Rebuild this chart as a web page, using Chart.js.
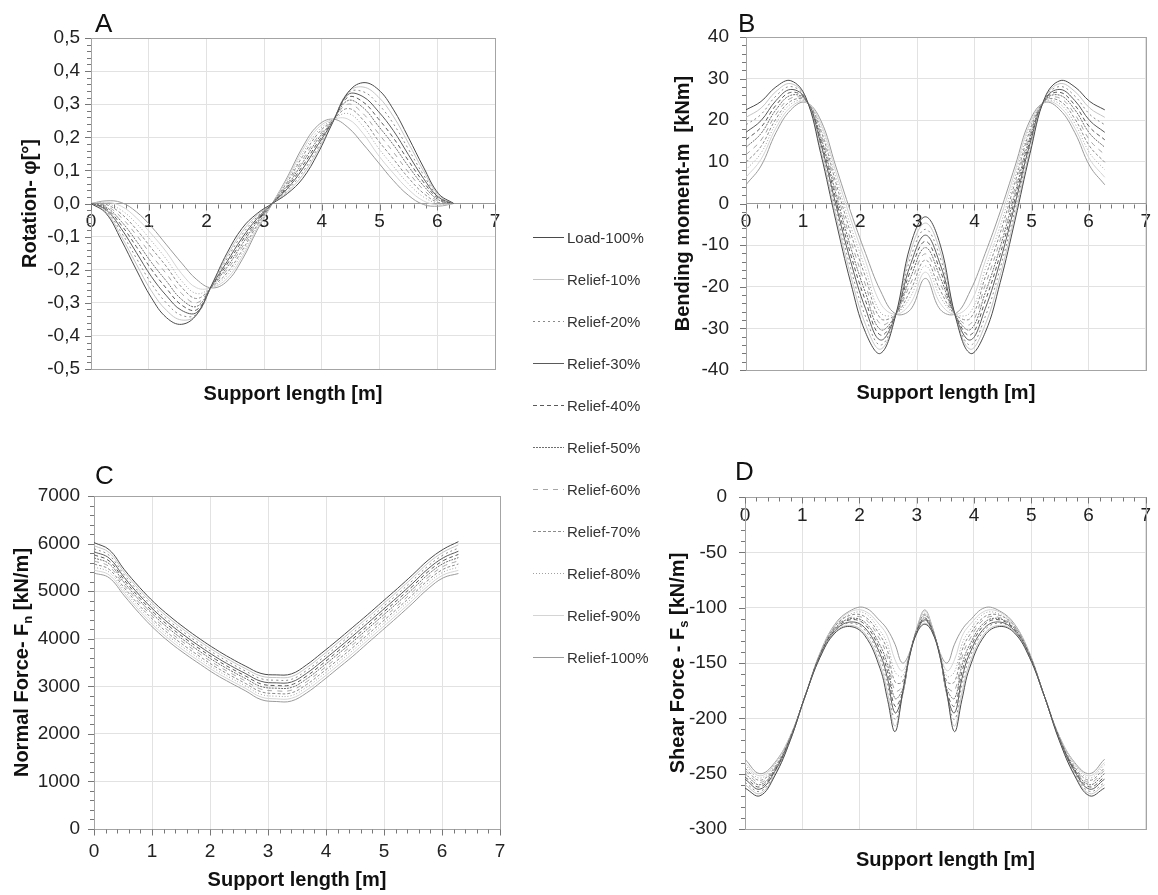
<!DOCTYPE html>
<html>
<head>
<meta charset="utf-8">
<script src="https://cdn.jsdelivr.net/npm/chart.js@4.4.0/dist/chart.umd.min.js"></script>
<style>
  html, body { margin: 0; padding: 0; background: #fff; }
  body { width: 1158px; height: 895px; position: relative; overflow: hidden; font-family: 'Liberation Sans', Arial, sans-serif; }
  canvas { position: absolute; }
  #legend { position: absolute; left: 533px; top: 0; }
  .item { position: absolute; left: 0; height: 18px; white-space: nowrap; font-size: 15px; color: #333; display: flex; align-items: center; }
  .item svg { margin-right: 3px; }
</style>
</head>
<body>
<canvas id="chartA" width="520" height="420" style="left:0;top:0"></canvas>
<canvas id="chartB" width="578" height="420" style="left:580px;top:0"></canvas>
<canvas id="chartC" width="520" height="465" style="left:0;top:430px"></canvas>
<canvas id="chartD" width="578" height="465" style="left:580px;top:430px"></canvas>
<div id="legend"></div>
<script>
// series: load case + relief steps
const seriesNames = ['Load-100%', 'Relief-10%', 'Relief-20%', 'Relief-30%', 'Relief-40%', 'Relief-50%',
                     'Relief-60%', 'Relief-70%', 'Relief-80%', 'Relief-90%', 'Relief-100%'];
const seriesColors = ['#4a4a4a', '#c4c4c4', '#8a8a8a', '#5a5a5a', '#5a5a5a', '#6e6e6e',
                      '#a6a6a6', '#8c8c8c', '#a0a0a0', '#d4d4d4', '#9a9a9a'];
const seriesDash = [[], [], [2, 3], [], [4, 3], [2, 1], [5, 5], [3, 2], [1, 2], [], []];

// support length positions [m]
const xRing = [0, 0.262, 0.524, 0.785, 1.047, 1.309, 1.571, 1.833, 2.094, 2.356, 2.618, 2.880, 3.142,
               3.403, 3.665, 3.927, 4.189, 4.451, 4.712, 4.974, 5.236, 5.498, 5.760, 6.021, 6.283];
const xShear = [0, 0.26, 0.52, 0.79, 1.05, 1.31, 1.57, 1.83, 2.09, 2.36, 2.49, 2.62, 2.75, 2.88, 3.01, 3.14,
                3.27, 3.40, 3.53, 3.66, 3.79, 3.92, 4.19, 4.45, 4.71, 4.97, 5.23, 5.49, 5.76, 6.02, 6.28];

// A - rotation [°], one row per series (same order as seriesNames)
const rotation = [
  [0, -0.03, -0.11, -0.2, -0.285, -0.345, -0.365, -0.335, -0.245, -0.15, -0.075, -0.03, 0, 0.03, 0.075, 0.15, 0.245, 0.335, 0.365, 0.345, 0.285, 0.2, 0.11, 0.03, 0],
  [0, -0.026, -0.099, -0.183, -0.264, -0.323, -0.352, -0.336, -0.246, -0.159, -0.085, -0.035, 0, 0.035, 0.085, 0.159, 0.246, 0.336, 0.352, 0.323, 0.264, 0.183, 0.099, 0.026, 0],
  [0, -0.022, -0.087, -0.165, -0.242, -0.301, -0.338, -0.334, -0.247, -0.167, -0.094, -0.04, 0, 0.04, 0.094, 0.167, 0.247, 0.334, 0.338, 0.301, 0.242, 0.165, 0.087, 0.022, 0],
  [0, -0.019, -0.076, -0.148, -0.221, -0.279, -0.323, -0.329, -0.248, -0.176, -0.104, -0.045, 0, 0.045, 0.104, 0.176, 0.248, 0.329, 0.323, 0.279, 0.221, 0.148, 0.076, 0.019, 0],
  [0, -0.015, -0.065, -0.13, -0.199, -0.257, -0.307, -0.321, -0.249, -0.184, -0.113, -0.05, 0, 0.05, 0.113, 0.184, 0.249, 0.321, 0.307, 0.257, 0.199, 0.13, 0.065, 0.015, 0],
  [0, -0.011, -0.054, -0.113, -0.178, -0.235, -0.29, -0.311, -0.25, -0.193, -0.123, -0.055, 0, 0.055, 0.123, 0.193, 0.25, 0.311, 0.29, 0.235, 0.178, 0.113, 0.054, 0.011, 0],
  [0, -0.007, -0.042, -0.095, -0.156, -0.213, -0.272, -0.3, -0.251, -0.201, -0.132, -0.06, 0, 0.06, 0.132, 0.201, 0.251, 0.3, 0.272, 0.213, 0.156, 0.095, 0.042, 0.007, 0],
  [0, -0.003, -0.031, -0.078, -0.135, -0.191, -0.253, -0.287, -0.252, -0.21, -0.142, -0.065, 0, 0.065, 0.142, 0.21, 0.252, 0.287, 0.253, 0.191, 0.135, 0.078, 0.031, 0.003, 0],
  [0, 0, -0.02, -0.06, -0.113, -0.169, -0.234, -0.272, -0.253, -0.218, -0.151, -0.07, 0, 0.07, 0.151, 0.218, 0.253, 0.272, 0.234, 0.169, 0.113, 0.06, 0.02, 0, 0],
  [0, 0.004, -0.008, -0.043, -0.092, -0.147, -0.212, -0.255, -0.254, -0.227, -0.161, -0.075, 0, 0.075, 0.161, 0.227, 0.254, 0.255, 0.212, 0.147, 0.092, 0.043, 0.008, -0.004, 0],
  [0, 0.008, 0.003, -0.025, -0.07, -0.125, -0.18, -0.23, -0.255, -0.235, -0.17, -0.08, 0, 0.08, 0.17, 0.235, 0.255, 0.23, 0.18, 0.125, 0.07, 0.025, -0.003, -0.008, 0]
];

// B - bending moment [kNm]
const moment = [
  [22.5, 24.5, 28, 29.5, 25.5, 12, -4, -19, -31, -36, -27, -10, -3.2, -10, -27, -36, -31, -19, -4, 12, 25.5, 29.5, 28, 24.5, 22.5],
  [20.7, 22.9, 26.9, 28.8, 25.4, 12.8, -2.7, -17.3, -29.1, -35, -27, -11.6, -4.7, -11.6, -27, -35, -29.1, -17.3, -2.7, 12.8, 25.4, 28.8, 26.9, 22.9, 20.7],
  [18.9, 21.4, 25.8, 28.1, 25.3, 13.6, -1.4, -15.6, -27.2, -34, -26.9, -13.1, -6.2, -13.1, -26.9, -34, -27.2, -15.6, -1.4, 13.6, 25.3, 28.1, 25.8, 21.4, 18.9],
  [17.1, 19.9, 24.7, 27.4, 25.1, 14.4, -0.1, -13.9, -25.3, -32.8, -26.9, -14.7, -7.6, -14.7, -26.9, -32.8, -25.3, -13.9, -0.1, 14.4, 25.1, 27.4, 24.7, 19.9, 17.1],
  [15.3, 18.3, 23.6, 26.7, 25, 15.2, 1.2, -12.2, -23.4, -31.6, -26.8, -16.2, -9.1, -16.2, -26.8, -31.6, -23.4, -12.2, 1.2, 15.2, 25, 26.7, 23.6, 18.3, 15.3],
  [13.5, 16.8, 22.5, 26, 24.9, 16, 2.5, -10.5, -21.5, -30.3, -26.8, -17.8, -10.6, -17.8, -26.8, -30.3, -21.5, -10.5, 2.5, 16, 24.9, 26, 22.5, 16.8, 13.5],
  [11.7, 15.2, 21.4, 25.3, 24.8, 16.8, 3.8, -8.8, -19.6, -29, -26.7, -19.3, -12.1, -19.3, -26.7, -29, -19.6, -8.8, 3.8, 16.8, 24.8, 25.3, 21.4, 15.2, 11.7],
  [9.9, 13.7, 20.3, 24.6, 24.7, 17.6, 5.1, -7.1, -17.7, -27.6, -26.7, -20.9, -13.6, -20.9, -26.7, -27.6, -17.7, -7.1, 5.1, 17.6, 24.7, 24.6, 20.3, 13.7, 9.9],
  [8.1, 12.1, 19.2, 23.9, 24.5, 18.4, 6.4, -5.4, -15.8, -26.2, -26.6, -22.4, -15, -22.4, -26.6, -26.2, -15.8, -5.4, 6.4, 18.4, 24.5, 23.9, 19.2, 12.1, 8.1],
  [6.3, 10.6, 18.1, 23.2, 24.4, 19.2, 7.7, -3.7, -13.9, -24, -26.6, -24, -16.5, -24, -26.6, -24, -13.9, -3.7, 7.7, 19.2, 24.4, 23.2, 18.1, 10.6, 6.3],
  [4.5, 9, 17, 22.5, 24.3, 20, 9, -2, -12, -21, -26.5, -25.5, -18, -25.5, -26.5, -21, -12, -2, 9, 20, 24.3, 22.5, 17, 9, 4.5]
];

// C - normal force [kN/m]
const normalForce = [
  [6020, 5870, 5450, 5080, 4750, 4470, 4220, 3990, 3780, 3590, 3420, 3270, 3240, 3260, 3450, 3700, 3960, 4230, 4500, 4780, 5060, 5350, 5650, 5880, 6040],
  [5956, 5811, 5395, 5025, 4695, 4415, 4166, 3937, 3727, 3538, 3368, 3215, 3184, 3203, 3391, 3640, 3900, 4169, 4440, 4720, 5000, 5290, 5590, 5820, 5973],
  [5892, 5752, 5340, 4970, 4640, 4360, 4112, 3884, 3674, 3486, 3316, 3160, 3128, 3146, 3332, 3580, 3840, 4108, 4380, 4660, 4940, 5230, 5530, 5760, 5906],
  [5828, 5693, 5285, 4915, 4585, 4305, 4058, 3831, 3621, 3434, 3264, 3105, 3072, 3089, 3273, 3520, 3780, 4047, 4320, 4600, 4880, 5170, 5470, 5700, 5839],
  [5764, 5634, 5230, 4860, 4530, 4250, 4004, 3778, 3568, 3382, 3212, 3050, 3016, 3032, 3214, 3460, 3720, 3986, 4260, 4540, 4820, 5110, 5410, 5640, 5772],
  [5700, 5575, 5175, 4805, 4475, 4195, 3950, 3725, 3515, 3330, 3160, 2995, 2960, 2975, 3155, 3400, 3660, 3925, 4200, 4480, 4760, 5050, 5350, 5580, 5705],
  [5636, 5516, 5120, 4750, 4420, 4140, 3896, 3672, 3462, 3278, 3108, 2940, 2904, 2918, 3096, 3340, 3600, 3864, 4140, 4420, 4700, 4990, 5290, 5520, 5638],
  [5572, 5457, 5065, 4695, 4365, 4085, 3842, 3619, 3409, 3226, 3056, 2885, 2848, 2861, 3037, 3280, 3540, 3803, 4080, 4360, 4640, 4930, 5230, 5460, 5571],
  [5508, 5398, 5010, 4640, 4310, 4030, 3788, 3566, 3356, 3174, 3004, 2830, 2792, 2804, 2978, 3220, 3480, 3742, 4020, 4300, 4580, 4870, 5170, 5400, 5504],
  [5444, 5339, 4955, 4585, 4255, 3975, 3734, 3513, 3303, 3122, 2952, 2775, 2736, 2747, 2919, 3160, 3420, 3681, 3960, 4240, 4520, 4810, 5110, 5340, 5437],
  [5380, 5280, 4900, 4530, 4200, 3920, 3680, 3460, 3250, 3070, 2900, 2720, 2680, 2690, 2860, 3100, 3360, 3620, 3900, 4180, 4460, 4750, 5050, 5280, 5370]
];

// D - shear force [kN/m] (on xShear)
const shearForce = [
  [-263, -270, -252, -220, -180, -145, -123, -117, -125, -155, -183, -212, -178, -143, -122, -115, -122, -143, -178, -212, -183, -155, -125, -117, -123, -145, -180, -220, -252, -270, -263],
  [-260, -268, -251, -220, -180, -145, -122, -116, -123, -151, -177, -207, -180, -143, -122, -114, -122, -143, -180, -207, -177, -151, -123, -116, -122, -145, -180, -220, -251, -268, -260],
  [-258, -266, -250, -219, -180, -144, -121, -114, -120, -146, -170, -201, -180, -142, -121, -112, -121, -142, -180, -201, -170, -146, -120, -114, -121, -144, -180, -219, -250, -266, -258],
  [-255, -264, -248, -219, -180, -144, -121, -113, -118, -142, -164, -195, -179, -142, -121, -111, -121, -142, -179, -195, -164, -142, -118, -113, -121, -144, -180, -219, -248, -264, -255],
  [-253, -262, -247, -218, -180, -143, -120, -111, -115, -138, -158, -189, -177, -142, -120, -110, -120, -142, -177, -189, -158, -138, -115, -111, -120, -143, -180, -218, -247, -262, -253],
  [-250, -260, -246, -218, -180, -143, -119, -110, -113, -134, -152, -182, -174, -142, -120, -109, -120, -142, -174, -182, -152, -134, -113, -110, -119, -143, -180, -218, -246, -260, -250],
  [-247, -258, -245, -218, -180, -143, -118, -109, -110, -129, -145, -175, -171, -141, -119, -107, -119, -141, -171, -175, -145, -129, -110, -109, -118, -143, -180, -218, -245, -258, -247],
  [-245, -256, -244, -217, -180, -142, -117, -107, -108, -125, -139, -167, -167, -141, -119, -106, -119, -141, -167, -167, -139, -125, -108, -107, -117, -142, -180, -217, -244, -256, -245],
  [-242, -254, -242, -217, -180, -142, -117, -106, -105, -121, -133, -158, -162, -141, -118, -105, -118, -141, -162, -158, -133, -121, -105, -106, -117, -142, -180, -217, -242, -254, -242],
  [-240, -252, -241, -216, -180, -141, -116, -104, -103, -116, -126, -147, -157, -140, -118, -103, -118, -140, -157, -147, -126, -116, -103, -104, -116, -141, -180, -216, -241, -252, -240],
  [-237, -250, -240, -216, -180, -141, -115, -103, -100, -112, -120, -133, -150, -140, -117, -102, -117, -140, -150, -133, -120, -112, -100, -103, -115, -141, -180, -216, -240, -250, -237]
];

Chart.defaults.font.family = "'Liberation Sans', Arial, sans-serif";
const titleFont = "bold 20px 'Liberation Sans', 'DejaVu Sans', sans-serif";
const subFont = "bold 13px 'Liberation Sans', 'DejaVu Sans', sans-serif";

function drawVerticalTitle(ctx, parts, cx, cy) {
  ctx.save();
  ctx.translate(cx, cy);
  ctx.rotate(-Math.PI / 2);
  ctx.textBaseline = 'middle';
  ctx.textAlign = 'left';
  let total = 0;
  parts.forEach(p => { ctx.font = p.sub ? subFont : titleFont; total += ctx.measureText(p.text).width; });
  let pos = -total / 2;
  parts.forEach(p => {
    ctx.font = p.sub ? subFont : titleFont;
    ctx.fillText(p.text, pos, p.sub ? 6 : 0);
    pos += ctx.measureText(p.text).width;
  });
  ctx.restore();
}

// frame, minor ticks, panel letter and axis titles
const panelDecor = {
  id: 'panelDecor',
  beforeDatasetsDraw(chart, args, o) {
    const { ctx, chartArea: a, scales: { x, y } } = chart;
    ctx.save();
    ctx.lineWidth = 1;
    ctx.strokeStyle = '#a4a4a4';
    ctx.strokeRect(Math.round(a.left) + 0.5, Math.round(a.top) + 0.5, Math.round(a.width), Math.round(a.height));
    ctx.strokeStyle = '#777';
    ctx.beginPath();
    const nY = Math.round((o.yMax - o.yMin) / o.yMinor);
    const perMajor = Math.round(o.yStep / o.yMinor);
    for (let k = 0; k <= nY; k++) {
      const py = Math.round(y.getPixelForValue(o.yMin + k * o.yMinor)) + 0.5;
      const len = k % perMajor === 0 ? 6 : 4;
      ctx.moveTo(a.left - len, py);
      ctx.lineTo(a.left, py);
    }
    const axisY = Math.round(o.xAtZero ? y.getPixelForValue(0) : a.bottom) + 0.5;
    for (let k = 0; k <= 35; k++) {
      const px = Math.round(x.getPixelForValue(k * 0.2)) + 0.5;
      const len = k % 5 === 0 ? 6 : 4;
      ctx.moveTo(px, axisY);
      ctx.lineTo(px, axisY + len);
    }
    ctx.stroke();
    ctx.restore();
  },
  afterDraw(chart, args, o) {
    const { ctx, chartArea: a } = chart;
    ctx.save();
    ctx.fillStyle = '#111';
    ctx.font = "26px 'Liberation Sans', Arial, sans-serif";
    ctx.textAlign = 'left';
    ctx.textBaseline = 'alphabetic';
    ctx.fillText(o.letter, a.left + o.letterDx, a.top + o.letterDy);
    ctx.font = titleFont;
    ctx.textAlign = 'center';
    ctx.textBaseline = 'middle';
    ctx.fillText('Support length [m]', (a.left + a.right) / 2, a.bottom + o.xTitleDy);
    drawVerticalTitle(ctx, o.yTitle, a.left + o.yTitleDx, (a.top + a.bottom) / 2);
    ctx.restore();
  }
};

function buildPanel(id, xs, series, cfg) {
  const ctx = document.getElementById(id).getContext('2d');
  return new Chart(ctx, {
    type: 'line',
    data: {
      datasets: series.map((vals, i) => ({
        label: seriesNames[i],
        data: xs.map((x, k) => ({ x: x, y: vals[k] })),
        borderColor: seriesColors[i],
        borderDash: seriesDash[i],
        borderWidth: 1,
        pointRadius: 0,
        tension: 0.4,
        fill: false
      }))
    },
    options: {
      responsive: false,
      animation: false,
      layout: { padding: cfg.padding },
      scales: {
        x: {
          type: 'linear', min: 0, max: 7,
          position: cfg.xAtZero ? { y: 0 } : 'bottom',
          ticks: { stepSize: 1, padding: cfg.xPad, color: '#222', font: { size: 19 } },
          grid: { color: '#e2e2e2', drawTicks: false },
          border: { color: '#999' },
          afterFit: (s) => { if (!cfg.xAtZero) s.height = cfg.xHeight; }
        },
        y: {
          type: 'linear', min: cfg.yMin, max: cfg.yMax,
          ticks: { stepSize: cfg.yStep, padding: cfg.yPad, color: '#222', font: { size: 19 }, callback: cfg.fmt },
          grid: { color: '#e2e2e2', drawTicks: false },
          border: { color: '#888' },
          afterFit: (s) => { s.width = cfg.yWidth; }
        }
      },
      plugins: { legend: { display: false }, tooltip: { enabled: false }, panelDecor: cfg }
    },
    plugins: [panelDecor]
  });
}

const commaFmt = (v) => v.toFixed(1).replace('.', ',');
const intFmt = (v) => String(Math.round(v));

buildPanel('chartA', xRing, rotation, {
  padding: { left: 0, top: 38, right: 25, bottom: 51 }, yWidth: 91, xAtZero: true,
  yMin: -0.5, yMax: 0.5, yStep: 0.1, yMinor: 0.02, fmt: commaFmt, xPad: 7, yPad: 11,
  letter: 'A', letterDx: 4, letterDy: -6, xTitleDy: 25, yTitleDx: -61,
  yTitle: [{ text: 'Rotation- φ[°]' }]
});
buildPanel('chartB', xRing, moment, {
  padding: { left: 0, top: 37, right: 10, bottom: 50 }, yWidth: 166, xAtZero: true,
  yMin: -40, yMax: 40, yStep: 10, yMinor: 2, fmt: intFmt, xPad: 7, yPad: 17,
  letter: 'B', letterDx: -8, letterDy: -5, xTitleDy: 23, yTitleDx: -63,
  yTitle: [{ text: 'Bending moment-m  [kNm]' }]
});
buildPanel('chartC', xRing, normalForce, {
  padding: { left: 0, top: 66, right: 20, bottom: 0 }, yWidth: 94, xAtZero: false, xHeight: 66,
  yMin: 0, yMax: 7000, yStep: 1000, yMinor: 200, fmt: intFmt, xPad: 11, yPad: 14,
  letter: 'C', letterDx: 1, letterDy: -12, xTitleDy: 51, yTitleDx: -72,
  yTitle: [{ text: 'Normal Force- F' }, { text: 'n', sub: true }, { text: ' [kN/m]' }]
});
buildPanel('chartD', xShear, shearForce, {
  padding: { left: 0, top: 67, right: 8, bottom: 66 }, yWidth: 165, xAtZero: true,
  yMin: -300, yMax: 0, yStep: 50, yMinor: 10, fmt: intFmt, xPad: 7, yPad: 18,
  letter: 'D', letterDx: -10, letterDy: -17, xTitleDy: 31, yTitleDx: -67,
  yTitle: [{ text: 'Shear Force - F' }, { text: 's', sub: true }, { text: ' [kN/m]' }]
});

// legend in the middle column
const legendEl = document.getElementById('legend');
seriesNames.forEach((name, i) => {
  const item = document.createElement('div');
  item.className = 'item';
  item.style.top = (228 + i * 42) + 'px';
  item.innerHTML = '<svg width="31" height="10"><line x1="0" y1="5.5" x2="31" y2="5.5" stroke="' + seriesColors[i] +
    '" stroke-width="1" stroke-dasharray="' + (seriesDash[i].length ? seriesDash[i].join(' ') : 'none') + '"/></svg><span>' + name + '</span>';
  legendEl.appendChild(item);
});
</script>
</body>
</html>
